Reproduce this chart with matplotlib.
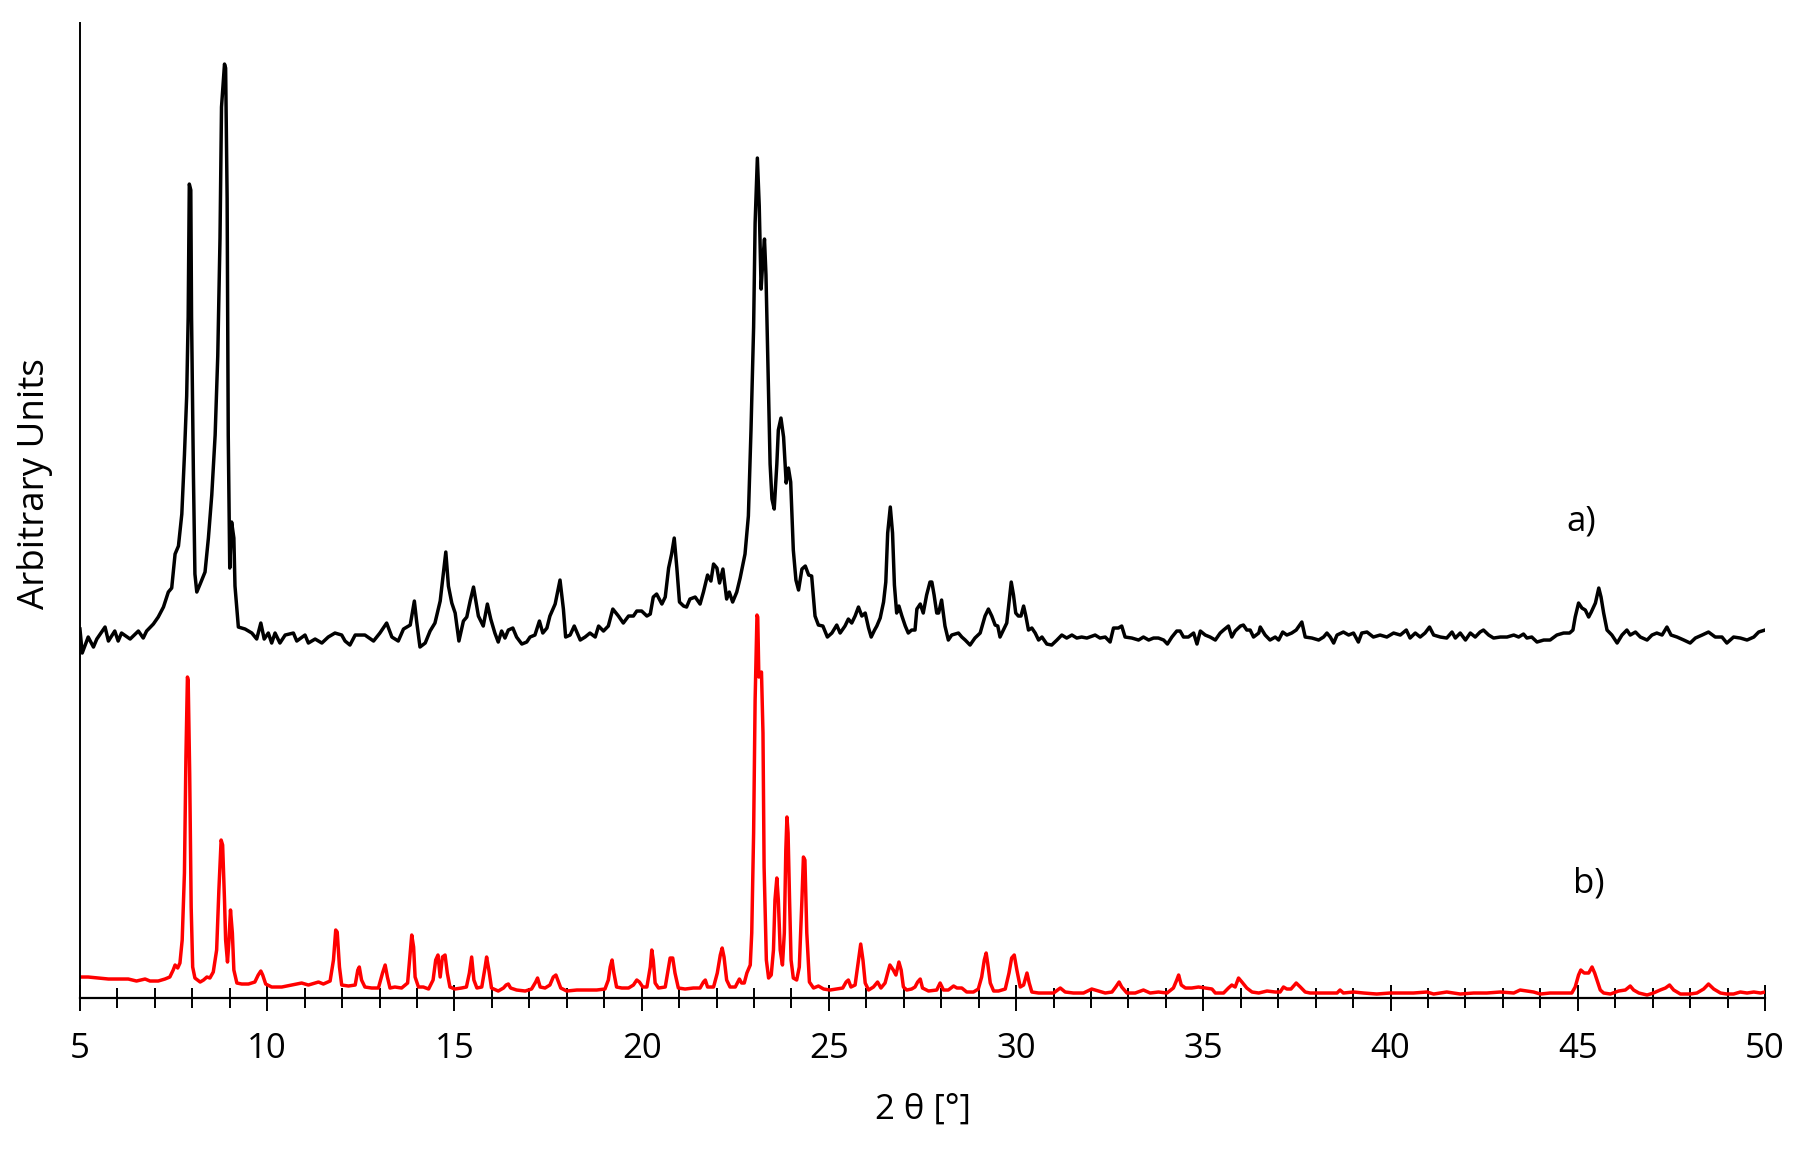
import matplotlib.pyplot as plt
from matplotlib.ticker import MultipleLocator

plt.rcParams['font.family'] = ['Open Sans', 'DejaVu Sans']

# a) measured pattern (shifted up), 2 theta in degrees, intensity in arbitrary units
two_theta_a = [
    5.00, 5.06, 5.22, 5.36, 5.45, 5.67, 5.76, 5.93, 6.02, 6.11, 6.34, 6.56, 6.69, 6.78,
    6.96, 7.09, 7.23, 7.36, 7.45, 7.54, 7.63, 7.72, 7.79, 7.85, 7.89, 7.92, 7.96, 7.98,
    8.03, 8.07, 8.12, 8.21, 8.34, 8.43, 8.52, 8.61, 8.68, 8.74, 8.78, 8.86, 8.89, 8.93,
    8.96, 9.00, 9.05, 9.11, 9.14, 9.23, 9.41, 9.59, 9.72, 9.83, 9.92, 10.03, 10.12, 10.21,
    10.34, 10.48, 10.70, 10.79, 11.01, 11.10, 11.28, 11.46, 11.63, 11.81, 11.99, 12.08,
    12.21, 12.35, 12.61, 12.84, 13.01, 13.19, 13.33, 13.50, 13.64, 13.82, 13.93, 13.99,
    14.08, 14.22, 14.35, 14.48, 14.62, 14.69, 14.77, 14.84, 14.93, 15.02, 15.12, 15.24,
    15.33, 15.42, 15.51, 15.64, 15.77, 15.88, 15.97, 16.08, 16.17, 16.26, 16.35, 16.44,
    16.56, 16.66, 16.80, 16.93, 17.02, 17.15, 17.27, 17.36, 17.47, 17.55, 17.69, 17.82,
    17.91, 17.97, 18.09, 18.20, 18.36, 18.49, 18.62, 18.76, 18.85, 18.98, 19.11, 19.23,
    19.38, 19.51, 19.65, 19.78, 19.87, 20.00, 20.14, 20.23, 20.31, 20.40, 20.54, 20.63,
    20.72, 20.80, 20.87, 20.94, 21.01, 21.12, 21.20, 21.29, 21.43, 21.56, 21.65, 21.76,
    21.85, 21.92, 22.01, 22.08, 22.17, 22.27, 22.34, 22.43, 22.54, 22.63, 22.76, 22.85,
    22.92, 22.99, 23.03, 23.09, 23.14, 23.19, 23.24, 23.28, 23.32, 23.37, 23.43, 23.48,
    23.54, 23.61, 23.65, 23.72, 23.79, 23.86, 23.92, 23.98, 24.05, 24.12, 24.19, 24.28,
    24.37, 24.46, 24.54, 24.63, 24.72, 24.84, 24.96, 25.08, 25.21, 25.30, 25.43, 25.52,
    25.61, 25.70, 25.79, 25.88, 25.97, 26.06, 26.13, 26.22, 26.28, 26.37, 26.46, 26.52,
    26.57, 26.64, 26.70, 26.75, 26.81, 26.87, 26.95, 27.04, 27.12, 27.21, 27.30, 27.35,
    27.44, 27.52, 27.61, 27.70, 27.75, 27.81, 27.88, 27.93, 28.01, 28.10, 28.19, 28.28,
    28.46, 28.55, 28.64, 28.77, 28.90, 29.04, 29.17, 29.26, 29.35, 29.44, 29.51, 29.57,
    29.66, 29.75, 29.81, 29.87, 29.93, 29.99, 30.06, 30.13, 30.20, 30.26, 30.33, 30.42,
    30.51, 30.60, 30.69, 30.82, 30.95, 31.09, 31.22, 31.35, 31.49, 31.62, 31.75, 31.89,
    32.11, 32.24, 32.38, 32.51, 32.60, 32.73, 32.82, 32.91, 33.09, 33.27, 33.40, 33.54,
    33.67, 33.80, 33.94, 34.04, 34.16, 34.29, 34.38, 34.47, 34.60, 34.74, 34.83, 34.92,
    35.05, 35.18, 35.32, 35.45, 35.54, 35.67, 35.76, 35.85, 35.99, 36.07, 36.16, 36.25,
    36.34, 36.48, 36.52, 36.65, 36.78, 36.92, 37.01, 37.12, 37.23, 37.36, 37.48, 37.63,
    37.72, 37.90, 38.08, 38.21, 38.30, 38.39, 38.48, 38.57, 38.74, 38.88, 39.01, 39.14,
    39.23, 39.37, 39.54, 39.72, 39.90, 40.08, 40.26, 40.42, 40.52, 40.66, 40.79, 40.92,
    41.04, 41.15, 41.33, 41.50, 41.64, 41.73, 41.86, 42.00, 42.13, 42.26, 42.39, 42.48,
    42.62, 42.75, 42.93, 43.11, 43.29, 43.42, 43.55, 43.64, 43.77, 43.91, 44.09, 44.26,
    44.44, 44.62, 44.78, 44.87, 44.93, 45.02, 45.11, 45.20, 45.29, 45.36, 45.47, 45.56,
    45.62, 45.69, 45.78, 45.91, 46.05, 46.18, 46.31, 46.40, 46.54, 46.67, 46.85, 46.98,
    47.11, 47.25, 47.38, 47.49, 47.65, 47.83, 48.00, 48.14, 48.32, 48.49, 48.67, 48.85,
    48.98, 49.16, 49.34, 49.52, 49.70, 49.83, 50.00,
]
intensity_a = [
    369, 345, 361, 351, 359, 371, 357, 367, 357, 365, 359, 367, 360, 367,
    374, 381, 391, 406, 410, 444, 452, 484, 543, 602, 681, 814, 808, 681,
    523, 424, 406, 414, 426, 460, 503, 563, 642, 760, 891, 934, 930, 800,
    563, 430, 476, 460, 412, 371, 369, 365, 359, 375, 359, 365, 355, 365,
    355, 363, 365, 357, 363, 355, 359, 355, 361, 365, 363, 357,
    353, 363, 363, 357, 365, 375, 361, 357, 369, 373, 397, 377,
    351, 355, 367, 375, 397, 420, 446, 412, 395, 385, 357, 377,
    381, 397, 411, 382, 372, 394, 379, 365, 356, 367, 360, 368,
    370, 361, 354, 356, 361, 363, 377, 365, 370, 382, 394, 418,
    389, 361, 363, 372, 358, 361, 365, 361, 372, 367, 372, 389,
    382, 375, 382, 382, 387, 387, 382, 384, 401, 404, 394, 401,
    430, 444, 460, 430, 396, 392, 391, 399, 401, 394, 406, 423,
    417, 434, 430, 415, 429, 399, 406, 396, 406, 420, 444, 482,
    568, 671, 775, 840, 792, 709, 740, 759, 723, 637, 534, 499,
    489, 534, 568, 580, 561, 515, 530, 516, 448, 418, 408, 429,
    432, 423, 422, 382, 373, 372, 361, 365, 373, 365, 372, 379,
    375, 382, 391, 382, 385, 370, 361, 368, 372, 380, 396, 416,
    465, 491, 465, 413, 385, 392, 382, 372, 365, 368, 368, 389,
    394, 385, 403, 416, 416, 403, 385, 385, 398, 372, 358, 363,
    365, 361, 358, 353, 360, 365, 382, 389, 382, 373, 372, 361,
    368, 375, 396, 416, 403, 385, 382, 382, 392, 382, 368, 370,
    365, 358, 361, 354, 353, 358, 363, 360, 363, 360, 361, 360,
    363, 360, 361, 356, 370, 370, 372, 361, 360, 358, 361, 358,
    360, 360, 358, 354, 361, 367, 367, 361, 361, 365, 354, 367,
    363, 361, 358, 365, 368, 372, 361, 367, 372, 373, 368, 368,
    361, 365, 371, 363, 358, 361, 358, 366, 363, 365, 368, 376,
    361, 360, 358, 361, 365, 361, 355, 363, 366, 363, 365, 356,
    365, 366, 361, 363, 361, 365, 363, 368, 360, 365, 361, 365,
    371, 363, 361, 360, 366, 360, 365, 358, 365, 361, 366, 368,
    363, 360, 361, 361, 363, 361, 364, 360, 361, 356, 358, 358,
    363, 365, 365, 368, 381, 395, 390, 388, 381, 386, 395, 410,
    401, 385, 368, 363, 355, 363, 368, 363, 366, 361, 358, 363,
    365, 363, 371, 363, 361, 358, 355, 360, 363, 366, 361, 361,
    355, 361, 360, 358, 361, 366, 368,
]

# b) simulated pattern
two_theta_b = [
    5.00, 5.22, 5.49, 5.76, 6.02, 6.29, 6.51, 6.74, 6.87, 7.09, 7.27, 7.40, 7.49, 7.54,
    7.61, 7.67, 7.73, 7.79, 7.83, 7.87, 7.89, 7.93, 7.97, 8.01, 8.07, 8.21, 8.30, 8.39,
    8.47, 8.56, 8.65, 8.71, 8.77, 8.81, 8.86, 8.89, 8.94, 8.98, 9.02, 9.07, 9.11, 9.19,
    9.32, 9.50, 9.67, 9.76, 9.83, 9.88, 9.96, 10.12, 10.39, 10.65, 10.92, 11.10, 11.37,
    11.50, 11.68, 11.77, 11.83, 11.87, 11.93, 11.99, 12.17, 12.35, 12.42, 12.46, 12.52,
    12.61, 12.79, 12.97, 13.08, 13.15, 13.21, 13.28, 13.41, 13.59, 13.75, 13.82, 13.86,
    13.91, 13.95, 14.04, 14.17, 14.31, 14.43, 14.50, 14.56, 14.62, 14.68, 14.75, 14.81,
    14.88, 15.01, 15.19, 15.32, 15.40, 15.46, 15.52, 15.60, 15.73, 15.82, 15.86, 15.92,
    15.99, 16.17, 16.31, 16.38, 16.44, 16.50, 16.66, 16.89, 17.06, 17.17, 17.22, 17.29,
    17.42, 17.55, 17.64, 17.71, 17.78, 17.84, 18.00, 18.27, 18.53, 18.80, 19.02, 19.11,
    19.16, 19.21, 19.26, 19.33, 19.47, 19.65, 19.78, 19.87, 19.94, 20.03, 20.14, 20.23,
    20.27, 20.31, 20.36, 20.45, 20.63, 20.72, 20.76, 20.83, 20.89, 20.98, 21.16, 21.38,
    21.56, 21.65, 21.70, 21.76, 21.92, 22.02, 22.10, 22.15, 22.20, 22.27, 22.36, 22.50,
    22.61, 22.67, 22.74, 22.81, 22.90, 22.94, 22.99, 23.03, 23.08, 23.10, 23.13, 23.16,
    23.20, 23.24, 23.27, 23.33, 23.39, 23.46, 23.52, 23.56, 23.61, 23.65, 23.70, 23.76,
    23.81, 23.85, 23.88, 23.91, 23.95, 23.99, 24.05, 24.14, 24.21, 24.28, 24.32, 24.36,
    24.41, 24.48, 24.59, 24.72, 24.86, 25.03, 25.21, 25.37, 25.46, 25.52, 25.59, 25.70,
    25.79, 25.85, 25.91, 25.97, 26.06, 26.19, 26.30, 26.39, 26.50, 26.57, 26.63, 26.72,
    26.79, 26.87, 26.93, 26.99, 27.08, 27.21, 27.30, 27.37, 27.44, 27.50, 27.66, 27.88,
    27.97, 28.06, 28.19, 28.33, 28.42, 28.55, 28.68, 28.86, 28.99, 29.08, 29.15, 29.20,
    29.24, 29.31, 29.40, 29.53, 29.71, 29.81, 29.88, 29.95, 30.02, 30.11, 30.20, 30.29,
    30.35, 30.42, 30.60, 30.82, 31.00, 31.18, 31.31, 31.53, 31.80, 32.02, 32.20, 32.38,
    32.56, 32.66, 32.75, 32.82, 32.96, 33.18, 33.40, 33.58, 33.80, 34.03, 34.20, 34.29,
    34.34, 34.41, 34.52, 34.69, 34.87, 35.05, 35.23, 35.32, 35.54, 35.67, 35.76, 35.85,
    35.94, 36.03, 36.16, 36.30, 36.48, 36.70, 36.92, 37.05, 37.14, 37.23, 37.34, 37.48,
    37.59, 37.72, 37.85, 38.12, 38.39, 38.57, 38.65, 38.74, 39.01, 39.28, 39.63, 39.99,
    40.26, 40.61, 40.97, 41.15, 41.50, 41.86, 42.22, 42.57, 42.93, 43.29, 43.46, 43.64,
    43.82, 44.00, 44.26, 44.53, 44.84, 44.93, 45.02, 45.08, 45.17, 45.29, 45.38, 45.45,
    45.53, 45.60, 45.69, 45.87, 46.09, 46.27, 46.40, 46.49, 46.63, 46.85, 47.02, 47.20,
    47.34, 47.45, 47.56, 47.74, 48.00, 48.18, 48.36, 48.49, 48.63, 48.81, 48.98, 49.16,
    49.34, 49.52, 49.70, 49.88, 50.00,
]
intensity_b = [
    21, 21, 20, 19, 19, 19, 17, 19, 17, 17, 19, 21, 28, 33,
    30, 35, 58, 125, 241, 321, 318, 225, 91, 31, 20, 16, 18, 21,
    20, 26, 48, 108, 158, 153, 98, 58, 36, 58, 88, 65, 28, 15,
    14, 14, 16, 23, 27, 23, 14, 11, 11, 13, 15, 13, 16,
    14, 17, 38, 68, 66, 31, 13, 12, 13, 28, 31, 18,
    11, 10, 10, 25, 33, 21, 10, 11, 10, 15, 45, 63,
    51, 21, 11, 11, 9, 18, 38, 43, 21, 41, 43, 25,
    11, 9, 10, 11, 25, 41, 18, 10, 11, 31, 41, 28,
    10, 7, 10, 13, 14, 10, 8, 7, 9, 16, 20, 11,
    10, 13, 21, 23, 16, 10, 7, 8, 8, 8, 9, 18,
    31, 38, 25, 11, 10, 10, 13, 18, 16, 11, 11, 31,
    48, 38, 15, 10, 11, 31, 40, 40, 25, 10, 9, 10,
    10, 16, 18, 11, 11, 25, 43, 50, 41, 18, 11, 11,
    19, 15, 15, 25, 33, 65, 165, 298, 383, 381, 321, 323,
    326, 265, 131, 38, 20, 23, 48, 98, 120, 98, 48, 33,
    65, 148, 181, 165, 98, 38, 20, 18, 31, 98, 141, 138,
    65, 16, 10, 12, 9, 8, 9, 10, 16, 18, 11, 13,
    38, 54, 38, 15, 8, 11, 16, 10, 15, 25, 33, 28,
    23, 36, 28, 11, 8, 9, 11, 16, 19, 10, 7, 8,
    15, 8, 8, 12, 10, 10, 6, 6, 9, 21, 38, 45,
    35, 15, 7, 7, 9, 25, 40, 43, 28, 11, 13, 25,
    15, 6, 5, 5, 5, 10, 6, 5, 5, 9, 7, 5,
    6, 11, 16, 11, 5, 5, 8, 5, 6, 5, 10, 18,
    23, 13, 10, 10, 11, 10, 9, 5, 5, 10, 13, 11,
    20, 16, 10, 6, 5, 7, 6, 6, 11, 9, 9, 15,
    11, 6, 5, 5, 5, 5, 8, 5, 6, 5, 4, 5,
    5, 5, 6, 4, 6, 4, 5, 5, 6, 5, 8, 7,
    6, 4, 5, 5, 5, 11, 23, 28, 25, 25, 31, 25,
    16, 8, 5, 4, 7, 8, 12, 8, 5, 3, 5, 8,
    10, 13, 8, 4, 4, 5, 9, 14, 9, 5, 4, 4,
    6, 5, 6, 5, 6,
]

fig = plt.figure(figsize=(18.09, 11.59), dpi=100)
ax = fig.add_axes([0.0442, 0.1389, 0.9315, 0.8412])

ax.plot(two_theta_a, intensity_a, color='black', lw=2.5)
ax.plot(two_theta_b, intensity_b, color='#ff0000', lw=2.5)

ax.text(45.1, 477, 'a)', fontsize=25, ha='center', va='center')
ax.text(45.3, 115, 'b)', fontsize=25, ha='center', va='center')

ax.set_xlim(5, 50)
ax.set_ylim(0, 975)

# Excel-like axes: only left and bottom lines, crossing ticks
for side in ['top', 'right']:
    ax.spines[side].set_visible(False)
ax.spines['left'].set_linewidth(1.4)
ax.spines['bottom'].set_linewidth(1.6)
ax.set_yticks([])
ax.xaxis.set_major_locator(MultipleLocator(5))
ax.xaxis.set_minor_locator(MultipleLocator(1))
ax.tick_params(axis='x', which='major', direction='inout', length=19, width=1.4,
               labelsize=25, pad=15)
ax.tick_params(axis='x', which='minor', direction='inout', length=14, width=1.4)

ax.set_xlabel('2 θ [°]', fontsize=25, labelpad=19)
ax.set_ylabel('Arbitrary Units', fontsize=26.5)
ax.yaxis.set_label_coords(-0.016, 0.528)

plt.savefig('out.png', dpi=100)
